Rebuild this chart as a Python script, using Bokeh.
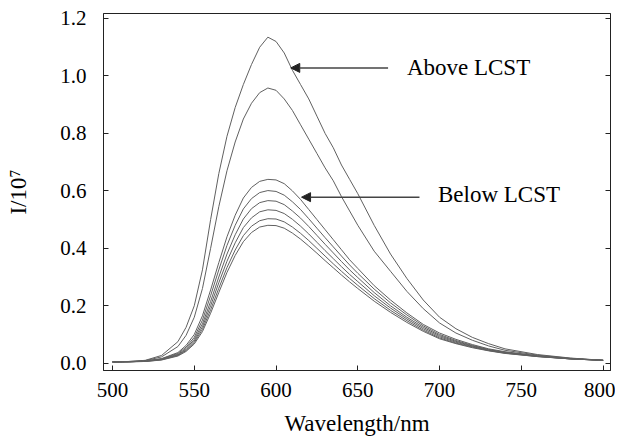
from bokeh.plotting import figure
from bokeh.models import Range1d, FixedTicker, PrintfTickFormatter, LinearAxis, Arrow, NormalHead, Label
from bokeh.embed import file_html
from bokeh.resources import INLINE

wavelength = [500, 510, 520, 530, 540, 545, 550, 555, 560, 565, 570, 575, 580, 585, 590, 595,
              600, 605, 610, 615, 620, 625, 630, 635, 640, 645, 650, 660, 670, 680, 690, 700,
              710, 720, 730, 740, 760, 780, 800]

above_1 = [0.005, 0.006, 0.010, 0.027, 0.075, 0.125, 0.20, 0.325, 0.50, 0.66, 0.79, 0.89, 0.97, 1.04, 1.10, 1.135,
           1.12, 1.08, 1.02, 0.97, 0.92, 0.86, 0.80, 0.75, 0.69, 0.64, 0.59, 0.48, 0.38, 0.295, 0.22, 0.16,
           0.12, 0.09, 0.068, 0.05, 0.03, 0.018, 0.01]
above_2 = [0.005, 0.006, 0.009, 0.022, 0.058, 0.097, 0.16, 0.26, 0.40, 0.545, 0.67, 0.77, 0.85, 0.905, 0.942, 0.958,
           0.95, 0.92, 0.88, 0.83, 0.78, 0.73, 0.68, 0.635, 0.58, 0.53, 0.48, 0.39, 0.32, 0.25, 0.19, 0.14,
           0.105, 0.08, 0.06, 0.045, 0.028, 0.017, 0.01]
below_1 = [0.004, 0.005, 0.008, 0.016, 0.037, 0.062, 0.10, 0.165, 0.255, 0.35, 0.44, 0.515, 0.575, 0.612, 0.633, 0.64,
           0.638, 0.625, 0.60, 0.57, 0.535, 0.50, 0.465, 0.43, 0.395, 0.36, 0.33, 0.27, 0.22, 0.175, 0.135, 0.105,
           0.083, 0.065, 0.05, 0.04, 0.026, 0.016, 0.01]
below_2 = [0.004, 0.005, 0.007, 0.015, 0.034, 0.056, 0.09, 0.15, 0.235, 0.325, 0.41, 0.48, 0.537, 0.573, 0.594, 0.601,
           0.598, 0.585, 0.562, 0.535, 0.503, 0.47, 0.437, 0.405, 0.373, 0.342, 0.313, 0.258, 0.21, 0.168, 0.13, 0.10,
           0.079, 0.062, 0.048, 0.038, 0.025, 0.016, 0.01]
below_3 = [0.004, 0.005, 0.007, 0.014, 0.031, 0.051, 0.083, 0.137, 0.215, 0.30, 0.38, 0.447, 0.502, 0.538, 0.559, 0.566,
           0.564, 0.552, 0.53, 0.505, 0.476, 0.445, 0.414, 0.384, 0.354, 0.325, 0.298, 0.246, 0.20, 0.16, 0.125, 0.096,
           0.076, 0.06, 0.047, 0.037, 0.024, 0.015, 0.01]
below_4 = [0.004, 0.005, 0.007, 0.013, 0.029, 0.047, 0.077, 0.127, 0.20, 0.28, 0.355, 0.419, 0.472, 0.506, 0.527, 0.534,
           0.532, 0.521, 0.501, 0.477, 0.45, 0.421, 0.392, 0.364, 0.336, 0.309, 0.284, 0.235, 0.192, 0.154, 0.12, 0.092,
           0.073, 0.058, 0.045, 0.036, 0.024, 0.015, 0.01]
below_5 = [0.004, 0.005, 0.006, 0.012, 0.027, 0.044, 0.072, 0.118, 0.186, 0.261, 0.333, 0.394, 0.444, 0.477, 0.496, 0.503,
           0.502, 0.492, 0.474, 0.452, 0.427, 0.40, 0.373, 0.346, 0.32, 0.295, 0.271, 0.225, 0.184, 0.148, 0.115, 0.088,
           0.07, 0.056, 0.044, 0.035, 0.023, 0.015, 0.01]
below_6 = [0.004, 0.005, 0.006, 0.011, 0.025, 0.041, 0.067, 0.11, 0.174, 0.246, 0.316, 0.375, 0.423, 0.455, 0.474, 0.48,
           0.479, 0.47, 0.453, 0.432, 0.408, 0.383, 0.357, 0.332, 0.307, 0.283, 0.26, 0.216, 0.177, 0.142, 0.111, 0.085,
           0.068, 0.054, 0.043, 0.034, 0.023, 0.015, 0.01]

x_ticks = [500, 550, 600, 650, 700, 750, 800]
y_ticks = [0.0, 0.2, 0.4, 0.6, 0.8, 1.0, 1.2]

FONT = "Liberation Serif"

p = figure(width=615, height=440, output_backend="svg", toolbar_location=None,
           x_range=Range1d(494.5, 804.5), y_range=Range1d(-0.0254, 1.2174),
           min_border_left=103, min_border_right=5, min_border_top=13, min_border_bottom=70,
           background_fill_color="white", border_fill_color="white")
p.outline_line_color = "#222222"
p.outline_line_width = 1
p.grid.visible = False

for series in [above_1, above_2, below_1, below_2, below_3, below_4, below_5, below_6]:
    p.line(wavelength, series, line_color="#606060", line_width=1.0)

def style_axis(ax, ticks):
    ax.ticker = FixedTicker(ticks=ticks)
    ax.major_tick_in = 5
    ax.major_tick_out = 0
    ax.minor_tick_line_color = None
    ax.axis_line_color = "#222222"
    ax.major_tick_line_color = "#222222"
    ax.major_label_text_font = FONT
    ax.major_label_text_font_size = "21px"
    ax.major_label_text_color = "black"
    ax.axis_label_text_font = FONT
    ax.axis_label_text_font_size = "23px"
    ax.axis_label_text_font_style = "normal"
    ax.axis_label_text_color = "black"

style_axis(p.xaxis[0], x_ticks)
style_axis(p.yaxis[0], y_ticks)
p.xaxis[0].axis_label = "Wavelength/nm"
p.yaxis[0].axis_label = "I/10\u2077"
p.yaxis[0].formatter = PrintfTickFormatter(format="%.1f")
p.yaxis[0].major_label_standoff = 17
p.xaxis[0].major_label_standoff = 12
p.xaxis[0].axis_label_standoff = 11
p.yaxis[0].axis_label_standoff = 26

right = LinearAxis()
style_axis(right, y_ticks)
right.major_label_overrides = {t: "" for t in y_ticks}
right.major_label_standoff = 0
p.add_layout(right, "right")

p.add_layout(Arrow(end=NormalHead(size=9, fill_color="#222222", line_color="#222222"),
                   x_start=668.5, y_start=1.028, x_end=609, y_end=1.028,
                   line_color="#444444", line_width=1.5))
p.add_layout(Arrow(end=NormalHead(size=9, fill_color="#222222", line_color="#222222"),
                   x_start=687.7, y_start=0.578, x_end=615.6, y_end=0.578,
                   line_color="#444444", line_width=1.5))
p.add_layout(Label(x=680, y=1.03, text="Above LCST", text_baseline="middle",
                   text_font=FONT, text_font_size="23px", text_color="black"))
p.add_layout(Label(x=699, y=0.588, text="Below LCST", text_baseline="middle",
                   text_font=FONT, text_font_size="23px", text_color="black"))

open("out.html", "w").write(file_html(p, INLINE))
